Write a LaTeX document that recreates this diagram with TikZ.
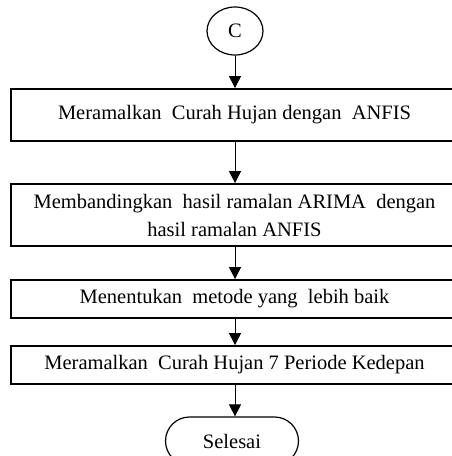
\documentclass[tikz,border=0pt]{standalone}
\usepackage{fontspec}
\setmainfont{Liberation Serif}
\usetikzlibrary{arrows.meta,shapes.geometric,shapes.misc}
\begin{document}
\begin{tikzpicture}[x=1pt,y=-1pt,
  every node/.style={font=\fontsize{20.5}{28}\selectfont, text=black},
  procbox/.style={draw, line width=1.8pt, rectangle, minimum width=447pt, inner sep=2pt, align=center},
  conn/.style={ellipse, draw, line width=1.2pt, minimum width=56pt, minimum height=48pt, inner sep=0pt},
  term/.style={rounded rectangle, draw, line width=1.2pt, minimum width=133pt, minimum height=48pt, inner sep=0pt},
  arr/.style={-{Triangle[width=12pt,length=12pt]}, line width=1pt}]
\useasboundingbox (0,0) rectangle (451,456);
\node[conn] (c) at (235,31) {C};
\node[procbox, minimum height=52pt] (b1) at (234.5,115) {Meramalkan \ Curah Hujan dengan \ ANFIS};
\node[procbox, minimum height=62pt] (b2) at (234.5,215) {Membandingkan \ hasil ramalan ARIMA \ dengan\\hasil ramalan ANFIS};
\node[procbox, minimum height=38pt] (b3) at (234.5,299) {Menentukan \ metode yang \ lebih baik};
\node[procbox, minimum height=38pt] (b4) at (234.5,365) {Meramalkan \ Curah Hujan 7 Periode Kedepan};
\node[term] (s) at (232,441) {Selesai};
\draw[arr] (c) -- (c |- b1.north);
\draw[arr] (c |- b1.south) -- (c |- b2.north);
\draw[arr] (c |- b2.south) -- (c |- b3.north);
\draw[arr] (c |- b3.south) -- (c |- b4.north);
\draw[arr] (c |- b4.south) -- (c |- s.north);
\end{tikzpicture}
\end{document}
